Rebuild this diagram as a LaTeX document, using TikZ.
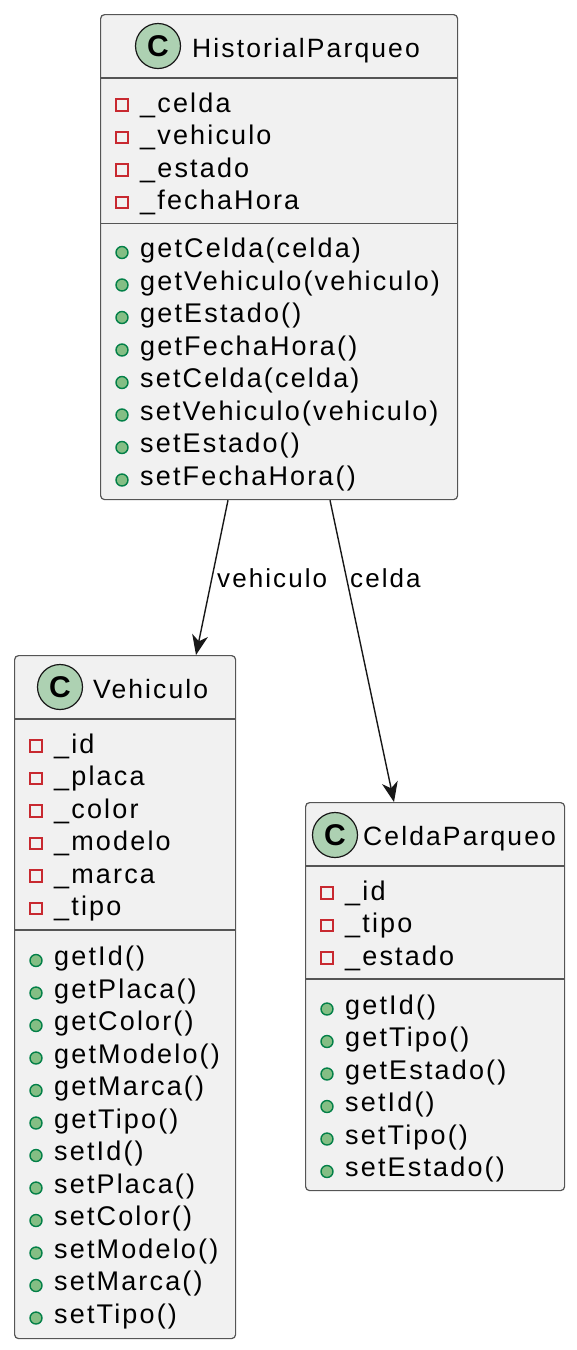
\documentclass[tikz,border=0pt]{standalone}
\usepackage{fontspec}
\setmainfont{Liberation Sans}[LetterSpace=8.0]
\usetikzlibrary{arrows.meta,calc}
\definecolor{boxfill}{HTML}{F1F1F1}
\definecolor{boxline}{HTML}{555555}
\definecolor{hdrfill}{HTML}{ADD1B2}
\definecolor{dark}{HTML}{181818}
\definecolor{privred}{HTML}{C82930}
\definecolor{pubfill}{HTML}{84BE84}
\definecolor{publine}{HTML}{038048}
\tikzset{
  cls/.style={draw=boxline, fill=boxfill, line width=1.2pt, rounded corners=4pt, inner sep=0pt, anchor=north west},
  sep/.style={draw=boxline, line width=1.2pt},
  hdr/.style={circle, draw=dark, fill=hdrfill, line width=1.2pt, minimum size=45pt, inner sep=0pt, font=\fontsize{30}{30}\selectfont\bfseries},
  title/.style={anchor=base west, inner sep=0pt, font=\fontsize{26.5}{30}\selectfont},
  item/.style={anchor=base west, inner sep=0pt, font=\fontsize{27}{30}\selectfont},
  priv/.style={rectangle, draw=privred, line width=1.7pt, minimum size=11.5pt, inner sep=0pt},
  pub/.style={circle, draw=publine, fill=pubfill, line width=1.4pt, minimum size=12pt, inner sep=0pt},
  arr/.style={draw=dark, line width=1.4pt, -{Stealth[length=20pt, width=16pt, inset=6pt]}},
  lbl/.style={anchor=base west, inner sep=0pt, font=\fontsize{26}{30}\selectfont}
}
\begin{document}
\begin{tikzpicture}[x=1pt, y=-1pt]
\useasboundingbox (0,0) rectangle (576,1350);

% ---------- HistorialParqueo ----------
\node[cls, minimum width=357pt, minimum height=485pt] (hp) at (100,14) {};
\node[hdr] (hpc) at (158,46) {C};
\node[title] (hpt) at (192,57) {HistorialParqueo};
\draw[sep] (hp.west |- 0,78) -- (hp.east |- 0,78);
\foreach \t [count=\i] in {{\_celda},{\_vehiculo},{\_estado},{\_fechaHora}} {
  \node[priv] (hpam\i) at (122,{112+32.5*(\i-1)-7}) {};
  \node[item] (hpa\i) at (140,{112+32.5*(\i-1)}) {\t};
}
\draw[sep] (hp.west |- 0,223.5) -- (hp.east |- 0,223.5);
\foreach \t [count=\i] in {{getCelda(celda)},{getVehiculo(vehiculo)},{getEstado()},{getFechaHora()},{setCelda(celda)},{setVehiculo(vehiculo)},{setEstado()},{setFechaHora()}} {
  \node[pub] (hpmm\i) at (122,{257.5+32.5*(\i-1)-5}) {};
  \node[item] (hpm\i) at (140,{257.5+32.5*(\i-1)}) {\t};
}

% ---------- Vehiculo ----------
\node[cls, minimum width=221pt, minimum height=683pt] (veh) at (14,655) {};
\node[hdr] (vehc) at (60,687) {C};
\node[title] (veht) at (93,698) {Vehiculo};
\draw[sep] (veh.west |- 0,719) -- (veh.east |- 0,719);
\foreach \t [count=\i] in {{\_id},{\_placa},{\_color},{\_modelo},{\_marca},{\_tipo}} {
  \node[priv] (vham\i) at (36,{753+32.5*(\i-1)-7}) {};
  \node[item] (vha\i) at (54,{753+32.5*(\i-1)}) {\t};
}
\draw[sep] (veh.west |- 0,930) -- (veh.east |- 0,930);
\foreach \t [count=\i] in {{getId()},{getPlaca()},{getColor()},{getModelo()},{getMarca()},{getTipo()},{setId()},{setPlaca()},{setColor()},{setModelo()},{setMarca()},{setTipo()}} {
  \node[pub] (vhmm\i) at (36,{965.5+32.5*(\i-1)-5}) {};
  \node[item] (vhm\i) at (54,{965.5+32.5*(\i-1)}) {\t};
}

% ---------- CeldaParqueo ----------
\node[cls, minimum width=259pt, minimum height=388pt] (cel) at (305,802) {};
\node[hdr] (celc) at (335,835) {C};
\node[title] (celt) at (363,845) {CeldaParqueo};
\draw[sep] (cel.west |- 0,866) -- (cel.east |- 0,866);
\foreach \t [count=\i] in {{\_id},{\_tipo},{\_estado}} {
  \node[priv] (cam\i) at (327,{900+32.5*(\i-1)-7}) {};
  \node[item] (ca\i) at (345,{900+32.5*(\i-1)}) {\t};
}
\draw[sep] (cel.west |- 0,979) -- (cel.east |- 0,979);
\foreach \t [count=\i] in {{getId()},{getTipo()},{getEstado()},{setId()},{setTipo()},{setEstado()}} {
  \node[pub] (cmm\i) at (327,{1014+32.5*(\i-1)-5}) {};
  \node[item] (cm\i) at (345,{1014+32.5*(\i-1)}) {\t};
}

% ---------- Connectors ----------
\draw[arr] ([xshift=128pt]hp.south west) -- ([xshift=182pt]veh.north west);
\draw[arr] ([xshift=230pt]hp.south west) -- ([xshift=89pt]cel.north west);
\node[lbl] (l1) at (217,587) {vehiculo};
\node[lbl] (l2) at (350,587) {celda};
\end{tikzpicture}
\end{document}
